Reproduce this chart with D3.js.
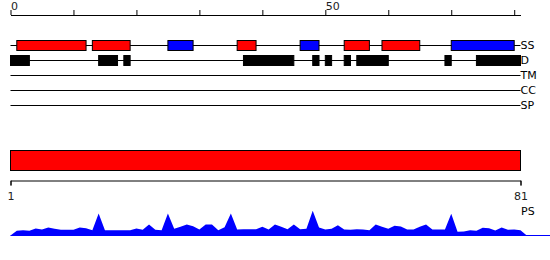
<!DOCTYPE html>
<html>
<head>
<meta charset="utf-8">
<script src="https://cdn.jsdelivr.net/npm/d3@7"></script>
<style>
  body { margin: 0; background: #fff; }
  svg { display: block; font-family: "DejaVu Sans", sans-serif; }
</style>
</head>
<body>
<svg id="chart" width="550" height="260"></svg>
<script>
// feature tracks
var tracks = ["SS", "D", "TM", "CC", "SP"];

// secondary structure segments (H = helix, E = strand)
var ssStart = [1, 13, 25, 36, 46, 53, 59, 70];
var ssEnd   = [12, 19, 29, 39, 49, 57, 65, 80];
var ssType  = ["H", "H", "E", "H", "E", "H", "H", "E"];

// disorder segments
var disStart = [0, 14, 18, 37, 48, 50, 53, 55, 69, 74];
var disEnd   = [3, 17, 19, 45, 49, 51, 54, 60, 70, 81];

var topTicks = [0, 10, 20, 30, 40, 50, 60, 70, 80];
var topLabels = [0, 50];
var seqRange = [1, 81];

// per-residue PS score, residues 1..81
var psScore = [
  0.19, 0.21, 0.19, 0.28, 0.24, 0.32, 0.27, 0.23, 0.23, 0.23,
  0.32, 0.29, 0.21, 0.88, 0.21, 0.21, 0.21, 0.21, 0.21, 0.28,
  0.23, 0.44, 0.23, 0.21, 0.88, 0.27, 0.35, 0.44, 0.37, 0.24,
  0.44, 0.44, 0.21, 0.33, 0.88, 0.24, 0.25, 0.25, 0.25, 0.35,
  0.24, 0.44, 0.35, 0.25, 0.44, 0.25, 0.27, 0.99, 0.32, 0.24,
  0.27, 0.41, 0.24, 0.23, 0.25, 0.24, 0.21, 0.44, 0.35, 0.27,
  0.39, 0.36, 0.24, 0.24, 0.35, 0.44, 0.24, 0.24, 0.24, 0.87,
  0.15, 0.16, 0.21, 0.19, 0.31, 0.29, 0.20, 0.32, 0.23, 0.24,
  0.21
];

var svg = d3.select("svg#chart");

var x = d3.scaleLinear().domain([0, 81]).range([10.5, 520.5]);
var trackY = d3.scalePoint().domain(tracks).range([45.5, 105.5]);

// top ruler
var topAxis = d3.axisTop(x)
  .tickValues(topTicks)
  .tickSize(5)
  .tickSizeOuter(0)
  .tickPadding(0)
  .tickFormat(function(d){ return topLabels.indexOf(d) >= 0 ? d : ""; });
var gTop = svg.append("g").attr("transform", "translate(0,15)").call(topAxis);
gTop.selectAll("text")
  .attr("text-anchor", "start")
  .attr("font-size", 11)
  .attr("font-family", "DejaVu Sans, sans-serif")
  .attr("fill", "#222");

// track lines + labels
svg.selectAll("line.track").data(tracks).enter().append("line")
  .attr("class", "track")
  .attr("x1", x(0)).attr("x2", x(81))
  .attr("y1", function(d){ return trackY(d); })
  .attr("y2", function(d){ return trackY(d); })
  .attr("stroke", "#000");
svg.selectAll("text.track").data(tracks).enter().append("text")
  .attr("class", "track")
  .attr("x", x(81))
  .attr("y", function(d){ return trackY(d); })
  .attr("dy", "0.36em")
  .attr("font-size", 11)
  .attr("fill", "#000")
  .text(function(d){ return d; });

// SS boxes
svg.selectAll("rect.ss").data(ssStart).enter().append("rect")
  .attr("class", "ss")
  .attr("x", function(d){ return x(d); })
  .attr("y", trackY("SS") - 5)
  .attr("width", function(d, i){ return x(ssEnd[i]) - x(d); })
  .attr("height", 10)
  .attr("fill", function(d, i){ return ssType[i] == "H" ? "#ff0000" : "#0000ff"; })
  .attr("stroke", "#000");

// disorder boxes
svg.selectAll("rect.dis").data(disStart).enter().append("rect")
  .attr("class", "dis")
  .attr("x", function(d){ return x(d); })
  .attr("y", trackY("D") - 5)
  .attr("width", function(d, i){ return x(disEnd[i]) - x(d); })
  .attr("height", 10)
  .attr("fill", "#000")
  .attr("stroke", "#000");

// bottom panel
var x2 = d3.scaleLinear().domain(seqRange).range([10.5, 520.5]);
svg.append("rect")
  .attr("x", x2(seqRange[0]))
  .attr("y", 150.5)
  .attr("width", x2(seqRange[1]) - x2(seqRange[0]))
  .attr("height", 20)
  .attr("fill", "#ff0000")
  .attr("stroke", "#000");

var gBot = svg.append("g").attr("transform", "translate(0,180.5)")
  .call(d3.axisBottom(x2).tickValues(seqRange).tickSize(5).tickPadding(7));
gBot.selectAll("text")
  .attr("font-size", 11)
  .attr("font-family", "DejaVu Sans, sans-serif")
  .attr("fill", "#222");

svg.append("text")
  .attr("x", 521).attr("y", 215)
  .attr("font-size", 11)
  .attr("fill", "#000")
  .text("PS");

// PS score area
var y = d3.scaleLinear().domain([0, 1]).range([235.5, 210.5]);
var pts = [[0, 0]].concat(psScore.map(function(d, i){ return [i + 1, d]; }), [[82, 0]]);
var area = d3.area()
  .x(function(d){ return x(d[0]); })
  .y0(y(0))
  .y1(function(d){ return y(d[1]); });
svg.append("path").datum(pts)
  .attr("d", area)
  .attr("fill", "#0000ff");
svg.append("line")
  .attr("x1", x(0)).attr("x2", 550)
  .attr("y1", y(0)).attr("y2", y(0))
  .attr("stroke", "#0000ff");
</script>
</body>
</html>
